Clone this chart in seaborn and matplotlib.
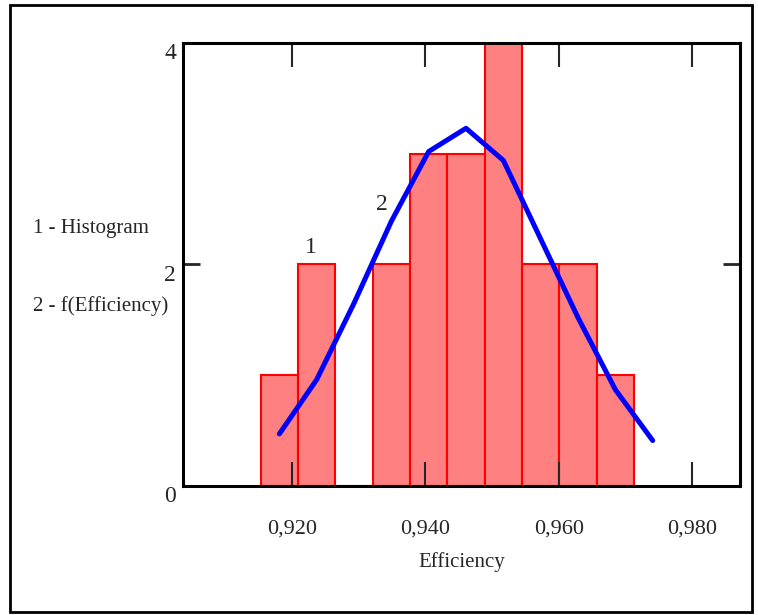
import numpy as np
import pandas as pd
import seaborn as sns
import matplotlib.pyplot as plt
from matplotlib.patches import Rectangle
from matplotlib.ticker import FuncFormatter
from matplotlib.transforms import ScaledTranslation

# === DATI ===
# bordi delle classi dell'istogramma (Efficiency)
bin_edges = [0.9153, 0.9209, 0.9265, 0.9321, 0.9377, 0.9433,
             0.9489, 0.9545, 0.9601, 0.9657, 0.9713]
bin_counts = [1, 2, 0, 2, 3, 3, 4, 2, 2, 1]

# curva f(Efficiency)
curve_x = [0.9181, 0.9237, 0.9293, 0.9349, 0.9405, 0.9461,
           0.9517, 0.9573, 0.9629, 0.9685, 0.9741]
curve_y = [0.47, 0.96, 1.65, 2.39, 3.02, 3.23, 2.94, 2.23, 1.52, 0.87, 0.41]

x_ticks = [0.920, 0.940, 0.960, 0.980]
y_ticks = [0, 2, 4]

# === GRAFICO ===
sns.set_style("white")
plt.rcParams['font.family'] = ['Liberation Serif', 'DejaVu Serif']

fig = plt.figure(figsize=(7.58, 6.15), dpi=100)
ax = fig.add_axes([0.2414, 0.2098, 0.7349, 0.7203])

bin_centers = [(a + b) / 2 for a, b in zip(bin_edges[:-1], bin_edges[1:])]
hist_df = pd.DataFrame({'Efficiency': bin_centers, 'count': bin_counts})
sns.histplot(data=hist_df, x='Efficiency', weights='count', bins=bin_edges,
             color='#ff8080', alpha=1, edgecolor='#ff0000', linewidth=1.5, ax=ax)

curve_df = pd.DataFrame({'x': curve_x, 'y': curve_y})
sns.lineplot(data=curve_df, x='x', y='y', color='#0000ff', linewidth=3.6, ax=ax)

ax.set_axisbelow(False)
ax.set_xlim(0.90365, 0.9872)
ax.set_ylim(0, 4)
ax.set_xticks(x_ticks)
ax.set_yticks(y_ticks)
ax.xaxis.set_major_formatter(FuncFormatter(lambda v, p: f"{v:.3f}".replace('.', ',')))
ax.tick_params(axis='x', direction='in', length=17, width=1.5, top=True, bottom=True,
               labelsize=16, pad=24)
ax.tick_params(axis='y', direction='in', length=12, width=2, right=True, left=True,
               labelsize=17, pad=5)
for s in ax.spines.values():
    s.set_linewidth(2.2)
    s.set_color('black')
    s.set_zorder(5)

# le etichette y stanno un po' sotto la tacca
for lab in ax.get_yticklabels():
    lab.set_transform(lab.get_transform() + ScaledTranslation(0, -6 / 72, fig.dpi_scale_trans))

ax.set_xlabel('Efficiency', fontsize=15, labelpad=10)
ax.set_ylabel('')

# etichette 1 e 2
ax.text(0.92283, 2.06, '1', fontsize=17, ha='center', va='bottom')
ax.text(0.93345, 2.45, '2', fontsize=17, ha='center', va='bottom')

# legenda testuale
fig.text(33 / 758, 1 - 229 / 615, '1 - Histogram', fontsize=15, va='center')
fig.text(33 / 758, 1 - 306 / 615, '2 - f(Efficiency)', fontsize=15, va='center')

# cornice esterna
fig.patches.append(Rectangle((10 / 758, 3 / 615), 742 / 758, 607 / 615,
                             transform=fig.transFigure, fill=False,
                             edgecolor='black', linewidth=2))

fig.savefig('out.png', dpi=100)
